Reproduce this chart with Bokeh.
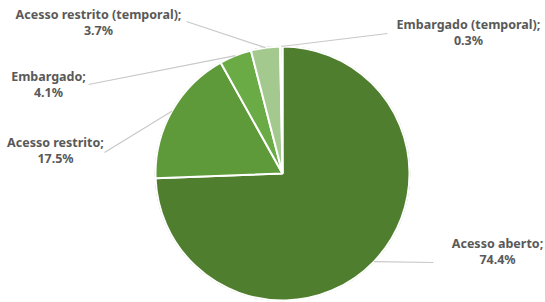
import math
from bokeh.plotting import figure
from bokeh.models import Range1d
from bokeh.core.properties import value
from bokeh.embed import file_html
from bokeh.resources import INLINE

# ---- data ----
categories = ["Acesso aberto", "Acesso restrito", "Embargado",
              "Acesso restrito (temporal)", "Embargado (temporal)"]
shares = [74.4, 17.5, 4.1, 3.7, 0.3]
pct_labels = ["74.4%", "17.5%", "4.1%", "3.7%", "0.3%"]
colors = ["#4f7f2e", "#5e9a3a", "#6aab45", "#a3c98f", "#c8e0bb"]

# ---- layout (image pixel coordinates, y measured from top) ----
W, H = 545, 302
CX, CY, R = 282, 173, 127
label_pos = [(497, 243), (55, 142), (48, 76), (98, 14), (468, 24)]
leader_end = [(433, 262), (104, 152), (88, 84), (186, 21), (387, 33)]

def fy(y):
    return H - y

p = figure(width=W, height=H, output_backend="svg",
           toolbar_location=None,
           x_range=Range1d(0, W), y_range=Range1d(0, H),
           min_border=0, outline_line_color=None)
p.axis.visible = False
p.grid.visible = False
p.background_fill_color = "white"
p.border_fill_color = "white"

total = sum(shares)
start = math.pi / 2
starts, ends, mids = [], [], []
for s in shares:
    a = 2 * math.pi * s / total
    starts.append(start - a)
    ends.append(start)
    mids.append(start - a / 2)
    start -= a

p.circle(x=[CX], y=[fy(CY)], radius=R + 0.8, fill_color="#3f6a24",
         line_color=None, fill_alpha=0.6)
p.wedge(x=CX, y=fy(CY), radius=R, start_angle=starts, end_angle=ends,
        fill_color=colors, line_color="white", line_width=2)

font = value("Noto Sans")
for i, cat in enumerate(categories):
    m = mids[i]
    px = CX + R * math.cos(m)
    py = fy(CY) + R * math.sin(m)
    ex, ey = leader_end[i]
    p.line([px, ex], [py, fy(ey)], line_color="#c8c8c8", line_width=1.2)
    lx, ly = label_pos[i]
    p.text(x=[lx], y=[fy(ly)], text=[cat + ";"], text_font=font,
           text_font_style="bold", text_font_size="12.5px",
           text_color="#595959", text_align="center",
           text_baseline="middle")
    p.text(x=[lx], y=[fy(ly + 16)], text=[pct_labels[i]], text_font=font,
           text_font_style="bold", text_font_size="12.5px",
           text_color="#595959", text_align="center",
           text_baseline="middle")

open("out.html", "w").write(file_html(p, INLINE))
